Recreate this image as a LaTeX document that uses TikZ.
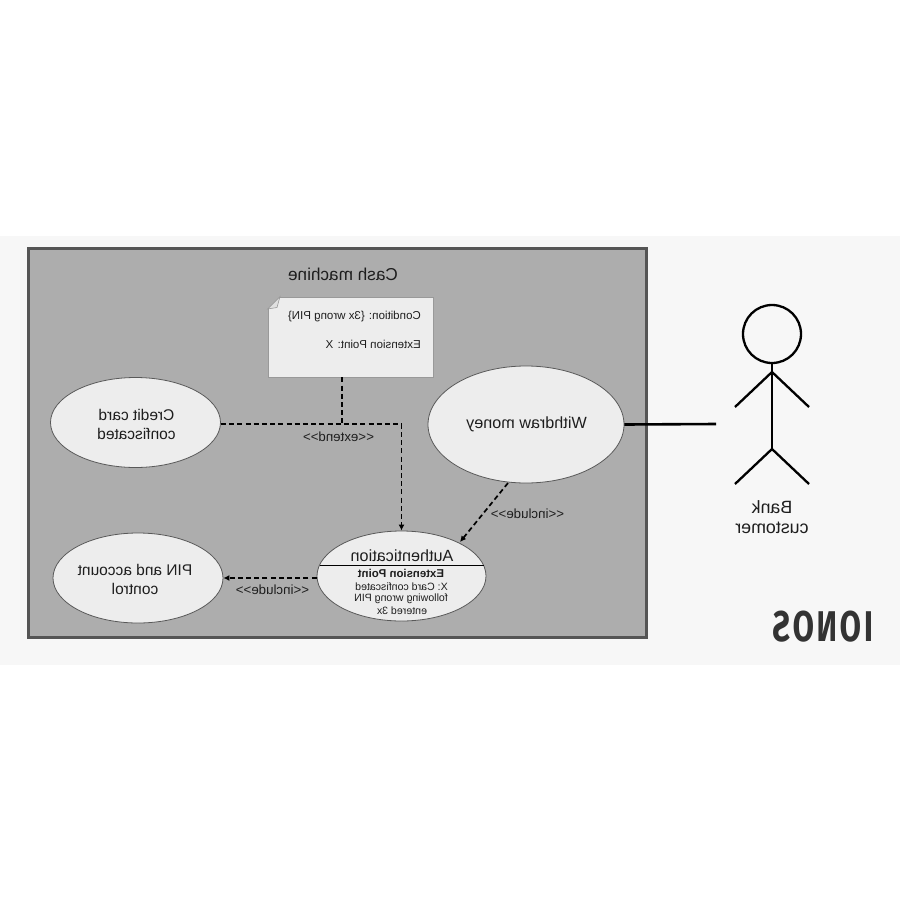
\documentclass[tikz,border=0pt]{standalone}
\usepackage{fontspec}
\setmainfont{Liberation Sans}
\newfontfamily\logofont[LetterSpace=9]{Fira Sans}
\usetikzlibrary{arrows.meta,calc,shapes.geometric}
\definecolor{band}{HTML}{F7F7F7}
\definecolor{framefill}{HTML}{ADADAD}
\definecolor{frameline}{HTML}{555555}
\definecolor{usefill}{HTML}{EDEDED}
\definecolor{ink}{HTML}{1E1E1E}
\definecolor{logo}{HTML}{333333}
\tikzset{
  flipped/.style={xscale=-1,transform shape,text=ink,inner sep=0pt,align=center},
  usecase/.style={draw=black!65,line width=0.8pt,fill=usefill,ellipse,inner sep=0pt},
  dep/.style={draw=black,line width=1.7pt,dash pattern=on 5pt off 3.2pt},
  deparrow/.style={dep,-{Latex[length=6pt,width=6pt]}},
  actorline/.style={draw=black,line width=2.3pt},
  mainlabel/.style={flipped,font=\fontsize{15.5}{19}\selectfont},
  largelabel/.style={flipped,font=\fontsize{16.2}{19}\selectfont},
  smalllabel/.style={flipped,font=\fontsize{11.5}{14}\selectfont},
  stereolabel/.style={flipped,font=\fontsize{13.3}{14}\selectfont},
  tinylabel/.style={flipped,font=\fontsize{10.6}{12}\selectfont},
}
\begin{document}
\begin{tikzpicture}[x=1pt,y=-1pt]
\useasboundingbox (0,0) rectangle (900,900);
\fill[white] (0,0) rectangle (900,900);
\fill[band] (0,236) rectangle (900,665);
% system frame
\node[draw=frameline,line width=2.6pt,fill=framefill,minimum width=618pt,minimum height=389pt,inner sep=0pt] (frame) at (337.5,443) {};
\node[flipped,font=\fontsize{17.2}{19}\selectfont] (title) at (343,274) {Cash machine};
% note
\node[draw=black!40,line width=0.8pt,fill=usefill,minimum width=165pt,minimum height=80pt,inner sep=0pt] (note) at (350.5,337) {};
\fill[framefill] (267.6,296.6) -- (280,296.6) -- (267.6,309) -- cycle;
\draw[draw=black!40,fill=black!12,line width=0.6pt] (280,296.6) -- (267.6,309) -- (277,307.5) -- cycle;
\node[smalllabel,anchor=west] (cond) at (421,317) {Condition: \{3x wrong PIN\}};
\node[smalllabel,anchor=west] (extp) at (421,344) {Extension Point: X};
% use cases
\node[usecase,minimum width=170pt,minimum height=90pt] (credit) at (135.5,422.5) {};
\node[usecase,minimum width=170pt,minimum height=90pt] (pin) at (138,578) {};
\node[usecase,minimum width=196pt,minimum height=117pt] (withdraw) at (526,424.5) {};
\node[usecase,minimum width=169pt,minimum height=90pt] (auth) at (401.5,576) {};
\node[mainlabel] (creditt) at (136.5,424) {Credit card\\confiscated};
\node[mainlabel] (pint) at (135,579.5) {PIN and account\\control};
\node[largelabel] (witht) at (526.5,424.5) {Withdraw money};
\node[largelabel] (autht) at (402,556) {Authentication};
\draw[draw=black,line width=1.2pt] (319.5,565.5) -- (483.5,565.5);
\node[flipped,font=\fontsize{11.4}{12}\bfseries\selectfont] (expt) at (401,573.5) {Extension Point};
\node[tinylabel] (ex1) at (401.5,587) {X: Card confiscated};
\node[tinylabel] (ex2) at (401,599) {following wrong PIN};
\node[tinylabel] (ex3) at (402,611) {entered 3x};
% connectors
\coordinate (extjoin) at (342,424);
\draw[dep] (extjoin |- note.south) -- (extjoin);
\draw[deparrow] ($(credit.east)+(0,1.5)$) -| (auth.north);
\coordinate (inctail) at (508,483);
\coordinate (inchead) at (460,542);
\draw[deparrow] (inctail) -- (inchead);
\draw[deparrow] (auth.west |- 0,578) -- (pin.east |- 0,578);
\node[stereolabel] (lext) at (338.5,437) {<{}<extend>{}>};
\node[stereolabel] (linc1) at (527.5,514) {<{}<include>{}>};
\node[stereolabel] (linc2) at (272.5,590) {<{}<include>{}>};
% actor
\coordinate (assocend) at (716,424);
\draw[actorline,line width=2.6pt] (withdraw.east) -- (assocend);
\node[circle,draw=black,line width=2.3pt,fill=none,minimum size=58pt,inner sep=0pt] (head) at (772,334) {};
\coordinate (hip) at (772,449);
\coordinate (shoulder) at (772,372);
\coordinate (handl) at (735,407);
\coordinate (handr) at (809,407);
\coordinate (footl) at (735,484);
\coordinate (footr) at (809,484);
\draw[actorline] (head.south) -- (hip);
\draw[actorline] (handl) -- (shoulder) -- (handr);
\draw[actorline] (footl) -- (hip) -- (footr);
\node[flipped,font=\fontsize{17.8}{20.5}\selectfont] (actor) at (772,517) {Bank\\customer};
% logo
\node[flipped,xscale=0.72,text=logo,font=\logofont\fontsize{43}{43}\bfseries\selectfont] (ionos) at (823,627) {IONOS};
\end{tikzpicture}
\end{document}
